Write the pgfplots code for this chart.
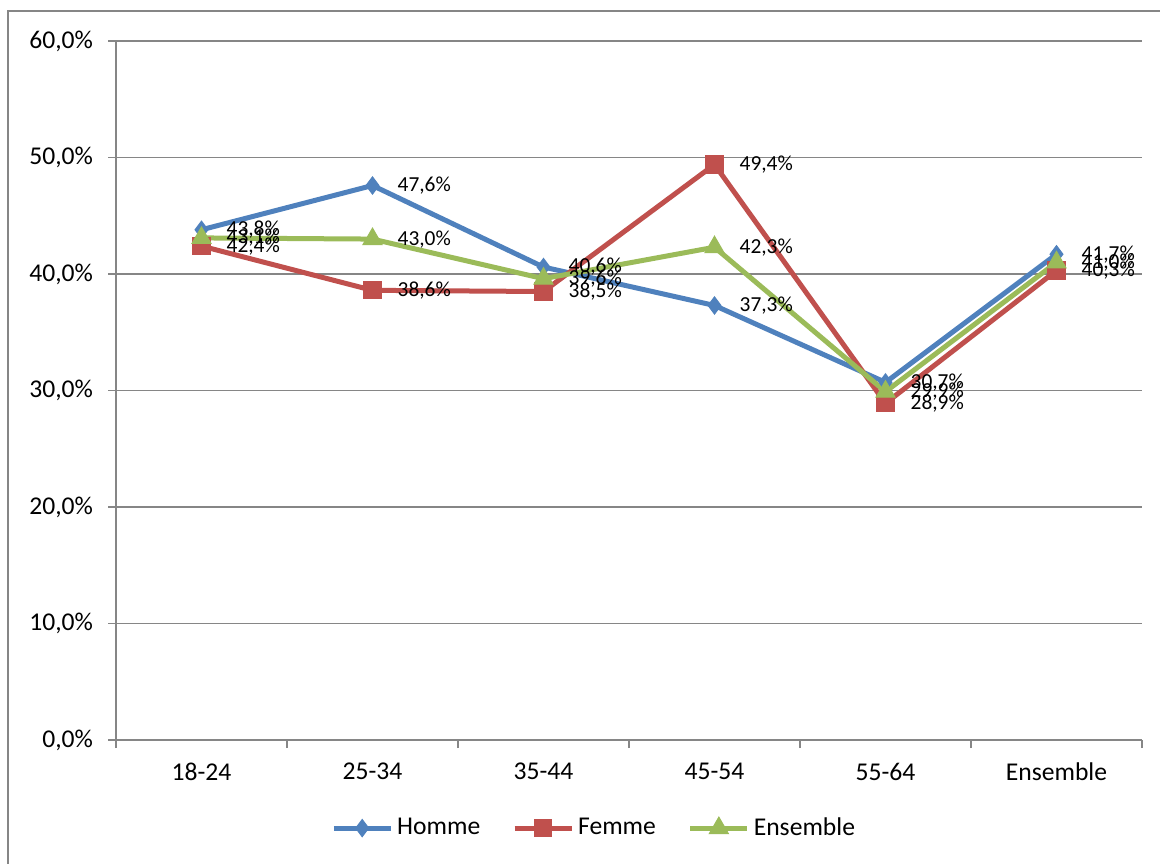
\documentclass[border=0pt]{standalone}
\usepackage{pgfplots}
\pgfplotsset{compat=1.18}
\usepackage{fontspec}
\setmainfont{Carlito}
\definecolor{cblue}{HTML}{4F81BD}
\definecolor{cred}{HTML}{C0504D}
\definecolor{cgreen}{HTML}{9BBB59}
\definecolor{cgrid}{HTML}{868686}
\begin{document}
\begin{tikzpicture}
\begin{axis}[
    scale only axis,
    width=513pt, height=349.5pt,
    xmin=-0.5, xmax=5.5,
    ymin=0, ymax=60,
    ytick={0,10,...,60},
    xtick={0,...,5},
    xticklabels={18-24,25-34,35-44,45-54,55-64,Ensemble},
    minor xtick={-0.5,0.5,...,5.5},
    major x tick style={draw=none},
    minor tick length=4pt,
    major tick length=4pt,
    tick align=outside,
    axis x line*=bottom,
    axis y line*=left,
    axis line style={cgrid, line width=0.8pt, -},
    every tick/.style={cgrid, line width=0.8pt},
    ymajorgrids,
    major grid style={cgrid, line width=0.8pt},
    /pgf/number format/assume math mode=true,
    yticklabel={\pgfmathprintnumber[fixed,fixed zerofill,precision=1,use comma]{\tick}\%},
    ticklabel style={font=\fontsize{12.8}{14}\selectfont},
    xticklabel style={yshift=-4pt},
    yticklabel style={xshift=-4pt},
    clip=false,
    nodes near coords={\pgfmathprintnumber[fixed,fixed zerofill,precision=1,use comma]{\pgfplotspointmeta}\%},
    every node near coord/.style={anchor=west, xshift=9pt, font=\fontsize{10.7}{12}\selectfont, text=black},
    legend columns=3,
    legend style={draw=none, fill=none, at={(0.467,-0.126)}, anchor=center,
        font=\fontsize{12.8}{14}\selectfont,
        /tikz/every even column/.append style={column sep=14pt}},
    legend image code/.code={
        \draw[mark repeat=2,mark phase=2] plot coordinates {(0cm,0cm) (0.5cm,0cm) (1cm,0cm)};},
]
\addplot[cblue, line width=2.5pt, mark=diamond*, mark size=4.3pt,
    mark options={line width=0.5pt}]
  coordinates {(0,43.8) (1,47.6) (2,40.6) (3,37.3) (4,30.7) (5,41.7)};
\addplot[cred, line width=2.5pt, mark=square*, mark size=4.3pt,
    mark options={line width=0.5pt}]
  coordinates {(0,42.4) (1,38.6) (2,38.5) (3,49.4) (4,28.9) (5,40.3)};
\addplot[cgreen, line width=2.5pt, mark=triangle*, mark size=5.5pt,
    mark options={line width=0.5pt}]
  coordinates {(0,43.1) (1,43.0) (2,39.6) (3,42.3) (4,29.9) (5,41.0)};
\legend{Homme,Femme,Ensemble}
\coordinate (bbA) at (rel axis cs:-0.11306,-0.17597);
\coordinate (bbB) at (rel axis cs:1.01754,1.0587);
\draw[cgrid, line width=0.8pt] (rel axis cs:-0.1053,-0.25) -- (rel axis cs:-0.1053,1.0429) -- (rel axis cs:1.02,1.0429);
\end{axis}
\pgfresetboundingbox
\path[use as bounding box] (bbA) rectangle (bbB);
\end{tikzpicture}
\end{document}
